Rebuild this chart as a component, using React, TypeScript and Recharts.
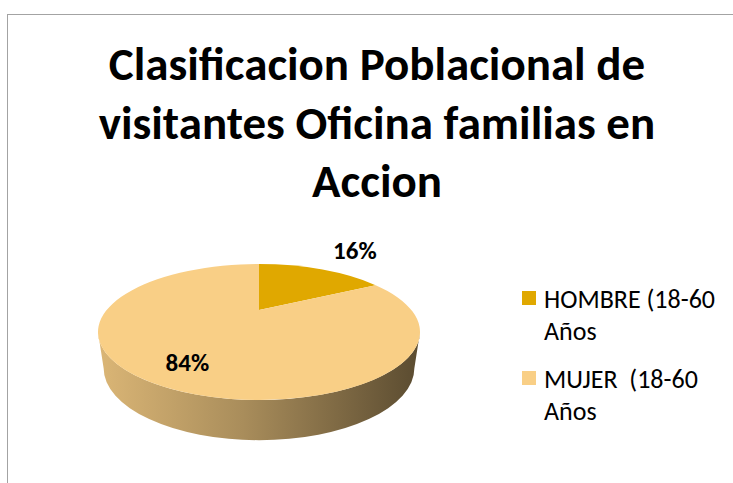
import React from "react";
import { PieChart, Pie, Cell, Legend } from "recharts";

const TITLE_LINES = ["Clasificacion Poblacional de", "visitantes Oficina familias en", "Accion"];
const CATEGORIES = ["HOMBRE (18-60 Años", "MUJER  (18-60 Años"];
const VALUES = [16, 84];
const COLORS = ["#e0a800", "#f9cf86"];

const data = CATEGORIES.map((name, i) => ({ name, value: VALUES[i] }));

const RAD = Math.PI / 180;
const RY_RATIO = 0.422; // flattening of the top face
const APEX_LIFT = 0.137; // perspective: visual centre sits above the ellipse centre
const DEPTH = 0.225;
const FONT = "Carlito, Calibri, 'Open Sans', Lato, sans-serif";

// push angles a bit to mimic the perspective of a tilted disc
function warp(deg: number) {
  const s = Math.sin(deg * RAD);
  const c = Math.cos(deg * RAD);
  const a = s > 0 ? 1.5 : 0.7;
  let phi = Math.atan2(a * s, c) / RAD;
  while (phi - deg > 180) phi -= 360;
  while (deg - phi > 180) phi += 360;
  return phi;
}

function shade(hex: string, f: number) {
  const n = parseInt(hex.slice(1), 16);
  const r = Math.round(((n >> 16) & 255) * f);
  const g = Math.round(((n >> 8) & 255) * f);
  const b = Math.round((n & 255) * f);
  return `rgb(${r},${g},${b})`;
}

function Slice3D(props: any) {
  const { cx, cy, outerRadius, startAngle, endAngle, fill, index } = props;
  const rx = outerRadius;
  const ry = outerRadius * RY_RATIO;
  const brx = rx * 0.965;
  const bry = ry + 4;
  const bcy = cy + outerRadius * DEPTH;
  const pt = (phi: number, x0 = cx, y0 = cy, a = rx, b = ry) =>
    `${x0 + a * Math.cos(phi * RAD)},${y0 - b * Math.sin(phi * RAD)}`;

  const phiA = warp(startAngle);
  const phiB = warp(endAngle);
  const delta = phiA - phiB;
  const large = delta > 180 ? 1 : 0;
  const apex = `${cx},${cy - outerRadius * APEX_LIFT}`;
  const top = `M ${apex} L ${pt(phiA)} A ${rx} ${ry} 0 ${large} 1 ${pt(phiB)} Z`;

  const walls: string[] = [];
  for (let k = -1; k <= 1; k++) {
    const lo = Math.max(phiB, -180 + 360 * k);
    const hi = Math.min(phiA, 360 * k);
    if (hi - lo > 0.01) {
      walls.push(
        `M ${pt(hi)} A ${rx} ${ry} 0 0 1 ${pt(lo)} L ${pt(lo, cx, bcy, brx, bry)} A ${brx} ${bry} 0 0 0 ${pt(hi, cx, bcy, brx, bry)} Z`
      );
    }
  }
  const gid = `wall-grad-${index}`;
  return (
    <g>
      <defs>
        <linearGradient id={gid} gradientUnits="userSpaceOnUse" x1={cx - rx} y1={0} x2={cx + rx} y2={0}>
          <stop offset="0%" stopColor={shade(fill, 0.88)} />
          <stop offset="45%" stopColor={shade(fill, 0.68)} />
          <stop offset="100%" stopColor={shade(fill, 0.36)} />
        </linearGradient>
      </defs>
      {walls.map((d, i) => (
        <path key={i} d={d} fill={`url(#${gid})`} stroke="none" />
      ))}
      <path d={top} fill={fill} stroke="none" />
    </g>
  );
}

function renderLabel(props: any) {
  const { cx, cy, midAngle, outerRadius, percent } = props;
  const rx = outerRadius;
  const ry = outerRadius * RY_RATIO;
  const phi = warp(midAngle) * RAD;
  const inside = percent > 0.5;
  const kx = inside ? 0.72 : 1.73;
  const ky = inside ? 0.58 : 1.28;
  const x = cx + rx * kx * Math.cos(phi);
  const y = cy - ry * ky * Math.sin(phi);
  return (
    <text
      x={x}
      y={y}
      textAnchor="middle"
      dominantBaseline="central"
      fontFamily={FONT}
      fontWeight="bold"
      fontSize={25}
      fill="#000"
    >
      {`${Math.round(percent * 100)}%`}
    </text>
  );
}

function LegendContent({ payload }: any) {
  return (
    <div style={{ fontFamily: FONT, fontSize: 26, lineHeight: "32px", color: "#000" }}>
      {(payload || []).map((entry: any, i: number) => (
        <div key={i} style={{ display: "flex", alignItems: "flex-start", marginBottom: 16 }}>
          <span
            style={{
              width: 14,
              height: 14,
              marginTop: 8,
              marginRight: 8,
              background: entry.color,
              flex: "0 0 14px",
            }}
          />
          <span style={{ width: 182, whiteSpace: "pre-wrap" }}>{entry.value}</span>
        </div>
      ))}
    </div>
  );
}

export default function App() {
  return (
    <div
      style={{
        position: "absolute",
        left: 0,
        top: 0,
        width: 733,
        height: 483,
        overflow: "hidden",
        background: "#fff",
      }}
    >
      <div
        style={{
          position: "absolute",
          left: 7,
          top: 14,
          width: 800,
          height: 600,
          border: "1.5px solid #a3a3a3",
        }}
      />
      <svg width={733} height={220} style={{ position: "absolute", left: 0, top: 0 }}>
        {TITLE_LINES.map((line, i) => (
          <text
            key={i}
            x={377}
            y={80 + i * 58.5}
            textAnchor="middle"
            fontFamily={FONT}
            fontWeight="bold"
            fontSize={47}
            fill="#000"
          >
            {line}
          </text>
        ))}
      </svg>
      <div style={{ position: "absolute", left: 0, top: 0 }}>
        <PieChart width={733} height={483} margin={{ top: 0, right: 0, bottom: 0, left: 0 }}>
          <Pie
            data={data}
            dataKey="value"
            nameKey="name"
            cx={259}
            cy={332}
            outerRadius={161}
            startAngle={90}
            endAngle={-270}
            stroke="none"
            shape={Slice3D}
            label={renderLabel}
            labelLine={false}
            isAnimationActive={false}
          >
            {data.map((d, i) => (
              <Cell key={d.name} fill={COLORS[i]} />
            ))}
          </Pie>
          <Legend
            layout="vertical"
            align="right"
            verticalAlign="top"
            content={LegendContent}
            wrapperStyle={{ left: 522, right: "auto", top: 283, width: 211 }}
          />
        </PieChart>
      </div>
    </div>
  );
}
